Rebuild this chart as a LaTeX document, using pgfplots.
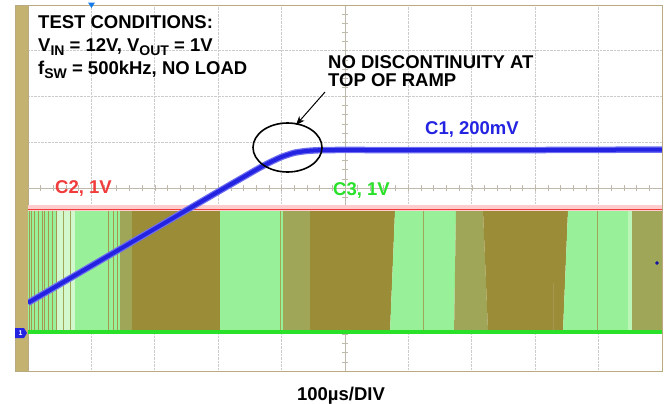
\documentclass[border=0pt]{standalone}
\usepackage{fontspec}
\setmainfont{Liberation Sans}
\usepackage{pgfplots}
\pgfplotsset{compat=1.18}
\usetikzlibrary{arrows.meta}
\definecolor{olive1}{RGB}{155,140,55}
\definecolor{lgreen}{RGB}{152,240,152}
\definecolor{pgreen}{RGB}{212,248,205}
\definecolor{mgreen}{RGB}{160,166,88}
\definecolor{stripe}{RGB}{165,150,80}
\definecolor{tanb}{RGB}{196,178,112}
\definecolor{framec}{RGB}{185,170,130}
\definecolor{c1blue}{RGB}{35,35,225}
\definecolor{c1soft}{RGB}{110,110,240}
\definecolor{c2red}{RGB}{240,60,60}
\definecolor{c2pink}{RGB}{255,205,205}
\definecolor{c3green}{RGB}{40,225,40}
\definecolor{cross}{RGB}{190,185,170}
\newcommand{\sub}[1]{\raisebox{-4.5bp}{\fontsize{14bp}{14bp}\selectfont #1}}
\begin{document}
\begin{tikzpicture}[x=1bp,y=1bp]
\useasboundingbox (-28,-32) rectangle (642,371);
\fill[tanb] (-13,0) rectangle (0,366);
\begin{axis}[at={(0,0)}, anchor=south west, scale only axis,
  width=634bp, height=366bp, xmin=0, xmax=10, ymin=0, ymax=8,
  xtick={1,...,9}, ytick={1,...,7}, xticklabels={}, yticklabels={},
  major tick length=0pt, grid=major,
  major grid style={densely dotted, gray!40, line width=0.7bp},
  axis line style={framec, line width=0.8bp},
  unbounded coords=jump]
% centre cross
\draw[cross, line width=0.7bp] (axis cs:0,4) -- (axis cs:10,4);
\draw[cross, line width=0.7bp] (axis cs:5,0) -- (axis cs:5,8);
\pgfplotsinvokeforeach{1,...,49}{\draw[cross, line width=0.6bp] (axis cs:#1/5,3.93) -- (axis cs:#1/5,4.07);}
\pgfplotsinvokeforeach{1,...,39}{\draw[cross, line width=0.6bp] (axis cs:4.95,#1/5) -- (axis cs:5.05,#1/5);}
% switching persistence fills (C3)
\addplot[fill=lgreen, draw=none] coordinates {(0,0.85)(0,3.5)(0.457,3.5)(0.457,0.85)};
\addplot[fill=pgreen, draw=none] coordinates {(0.457,0.85)(0.457,3.5)(0.741,3.5)(0.741,0.85)};
\addplot[fill=lgreen, draw=none] coordinates {(0.741,0.85)(0.741,3.5)(1.451,3.5)(1.451,0.85)};
\addplot[fill=mgreen, draw=none] coordinates {(1.451,0.85)(1.451,3.5)(1.640,3.5)(1.640,0.85)};
\addplot[fill=olive1, draw=none] coordinates {(1.640,0.85)(1.640,3.5)(3.028,3.5)(3.028,0.85)};
\addplot[fill=lgreen, draw=none] coordinates {(3.028,0.85)(3.028,3.5)(4.022,3.5)(4.022,0.85)};
\addplot[fill=mgreen, draw=none] coordinates {(4.022,0.85)(4.022,3.5)(4.448,3.5)(4.448,0.85)};
\addplot[fill=olive1, draw=none] coordinates {(4.448,0.85)(4.448,3.5)(5.789,3.5)(5.710,0.85)};
\addplot[fill=lgreen, draw=none] coordinates {(5.710,0.85)(5.789,3.5)(6.750,3.5)(6.720,0.85)};
\addplot[fill=mgreen, draw=none] coordinates {(6.720,0.85)(6.750,3.5)(7.177,3.5)(7.256,0.85)};
\addplot[fill=olive1, draw=none] coordinates {(7.256,0.85)(7.177,3.5)(8.517,3.5)(8.438,0.85)};
\addplot[fill=lgreen, draw=none] coordinates {(8.438,0.85)(8.517,3.5)(9.464,3.5)(9.464,0.85)};
\addplot[fill=pgreen!60!lgreen, draw=none] coordinates {(9.464,0.85)(9.464,3.5)(9.527,3.5)(9.527,0.85)};
\addplot[fill=mgreen, draw=none] coordinates {(9.527,0.85)(9.527,3.5)(10,3.5)(10,0.85)};
% thin stripes
\addplot[stripe, line width=1.0bp] coordinates {
 (0.016,0.85)(0.016,3.5)(0.016,nan)
 (0.063,0.85)(0.063,3.5)(0.063,nan)
 (0.110,0.85)(0.110,3.5)(0.110,nan)
 (0.158,0.85)(0.158,3.5)(0.158,nan)
 (0.221,0.85)(0.221,3.5)(0.221,nan)
 (0.268,0.85)(0.268,3.5)(0.268,nan)
 (0.331,0.85)(0.331,3.5)(0.331,nan)
 (0.394,0.85)(0.394,3.5)(0.394,nan)
 (0.442,0.85)(0.442,3.5)(0.442,nan)
 (1.262,0.85)(1.262,3.5)(1.262,nan)
 (1.341,0.85)(1.341,3.5)(1.341,nan)
 (1.404,0.85)(1.404,3.5)(1.404,nan)
 (8.281,0.85)(8.281,1.92)};
\addplot[mgreen, line width=0.8bp] coordinates {
 (0.552,0.85)(0.552,3.5)(0.552,nan)
 (0.662,0.85)(0.662,3.5)(0.662,nan)
 (3.975,0.85)(3.975,3.5)(3.975,nan)
 (6.230,0.85)(6.230,3.5)(6.230,nan)
 (8.975,0.85)(8.975,3.5)};
% C2 red trace
\addplot[fill=c2pink, draw=none] coordinates {(0,3.50)(0,3.62)(10,3.62)(10,3.50)};
\addplot[c2red, line width=0.9bp] coordinates {(0,3.53)(10,3.53)};
% C3 green trace
\addplot[c3green, line width=4bp] coordinates {(0,0.85)(10,0.85)};
% C1 blue trace
\addplot[c1soft, line width=6.5bp, smooth, tension=0.3] coordinates {(0,1.49)(1,2.30)(2,3.11)(3,3.92)(3.6,4.40)(3.8,4.55)(4.0,4.68)(4.2,4.77)(4.4,4.81)(4.7,4.83)(6,4.83)(8,4.83)(10,4.84)};
\addplot[c1blue, line width=4bp, smooth, tension=0.3] coordinates {(0,1.49)(1,2.30)(2,3.11)(3,3.92)(3.6,4.40)(3.8,4.55)(4.0,4.68)(4.2,4.77)(4.4,4.81)(4.7,4.83)(6,4.83)(8,4.83)(10,4.84)};
\addplot[only marks, mark=*, mark size=1.6bp, c1blue!70!black] coordinates {(9.92,2.36)};
\end{axis}
\draw[framec, line width=0.8bp] (-13,0) rectangle (634,366);
% channel-1 ground marker and trigger marker
\fill[c1blue] (-13,33) -- (-4,33) -- (-1,38) -- (-4,43) -- (-13,43) -- cycle;
\node[white, font=\fontsize{7bp}{7bp}\selectfont\bfseries] at (-7.5,38) {1};
\fill[c1blue!60!cyan] (60,368.5) -- (67,368.5) -- (63.5,363) -- cycle;
% annotations
\begin{scope}[font=\fontsize{18.5bp}{22bp}\selectfont\bfseries]
\node[anchor=base west, inner sep=0] at (10,343) {TEST CONDITIONS:};
\node[anchor=base west, inner sep=0] at (10,320) {V\sub{IN} = 12V, V\sub{OUT} = 1V};
\node[anchor=base west, inner sep=0] at (10,297) {f\sub{SW} = 500kHz, NO LOAD};
\node[anchor=base west, inner sep=0] at (300,303) {NO DISCONTINUITY AT};
\node[anchor=base west, inner sep=0] at (300,285) {TOP OF RAMP};
\node[anchor=base west, inner sep=0, text=c1blue] at (397,237) {C1, 200mV};
\node[anchor=base west, inner sep=0, text=c2red] at (27,178) {C2, 1V};
\node[anchor=base west, inner sep=0, text=c3green] at (305,176) {C3, 1V};
\node[anchor=base, inner sep=0] at (313,-29) {100µs/DIV};
\end{scope}
\draw[line width=1.6bp] (259.5,223.5) ellipse [x radius=34.5, y radius=24.5];
\draw[line width=1bp, -{Stealth[length=9bp,width=7bp]}] (297,279) -- (268,246);
\end{tikzpicture}
\end{document}
